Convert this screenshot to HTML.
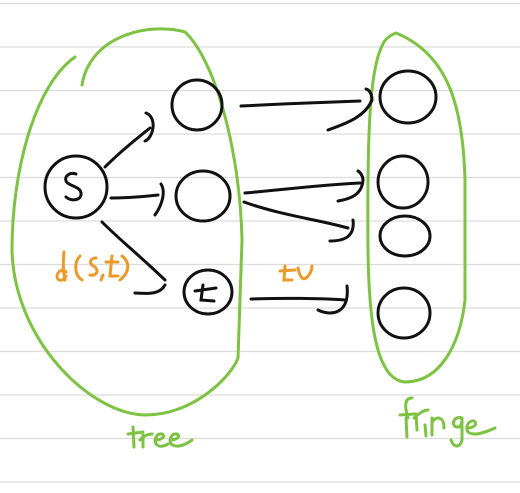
<!DOCTYPE html>
<html><head><meta charset="utf-8"><style>
html,body{margin:0;padding:0;background:#fff;}
svg{display:block}
</style></head><body>
<svg width="520" height="493" viewBox="0 0 520 493" xmlns="http://www.w3.org/2000/svg">
<g stroke="#dcdcdc" stroke-width="1.3">
<line x1="0" y1="3.5" x2="520" y2="3.5"/><line x1="0" y1="47" x2="520" y2="47"/>
<line x1="0" y1="90.5" x2="520" y2="90.5"/><line x1="0" y1="134" x2="520" y2="134"/>
<line x1="0" y1="177.5" x2="520" y2="177.5"/><line x1="0" y1="221" x2="520" y2="221"/>
<line x1="0" y1="264.5" x2="520" y2="264.5"/><line x1="0" y1="308" x2="520" y2="308"/>
<line x1="0" y1="351.5" x2="520" y2="351.5"/><line x1="0" y1="395" x2="520" y2="395"/>
<line x1="0" y1="438.5" x2="520" y2="438.5"/><line x1="0" y1="482" x2="520" y2="482"/>
</g>
<g fill="none" stroke="#7dc242" stroke-width="3" stroke-linecap="round">
<path d="M75,57 C35,85 12,170 12,250 C14,340 90,414 145,415 C195,415 232,375 238,358 L242,240 C240,150 215,60 185,32 C150,22 90,35 82,85"/>
<path d="M382,46 C370,70 367,130 368,250 C369,330 378,380 405,382 C440,382 460,345 465,300 L465,180 C463,110 450,55 396,33 C390,35 384,40 382,46"/>
</g>
<g fill="none" stroke="#111" stroke-width="3" stroke-linecap="round">
<ellipse cx="76" cy="187" rx="31" ry="31"/>
<path d="M76,174 C70,172 64,176 66,181 C68,186 80,186 81,193 C82,200 72,202 66,197"/>
<ellipse cx="197" cy="105" rx="25" ry="25"/>
<ellipse cx="203" cy="196" rx="27" ry="25"/>
<ellipse cx="208" cy="292" rx="24" ry="22"/>
<path d="M203,285 L201,300 L214,301 M195,291 L216,288"/>
<ellipse cx="408" cy="97" rx="28" ry="26"/>
<ellipse cx="403" cy="182" rx="25" ry="26"/>
<ellipse cx="405" cy="236" rx="25" ry="20"/>
<ellipse cx="404" cy="313" rx="26" ry="25"/>
<path d="M105,167 C120,152 135,140 150,128 M146,113 C158,118 153,138 145,141"/>
<path d="M111,198 C125,198 140,197 158,195 M161,184 C166,192 162,205 155,215"/>
<path d="M102,222 C120,240 140,256 165,280 M135,293 C150,294 160,294 165,285"/>
<path d="M241,106 C280,104 330,102 360,101 M328,130 C345,124 365,117 372,100 C372,95 370,90 366,89"/>
<path d="M245,193 C280,190 320,185 360,183 M338,201 C350,199 362,195 363,180 C363,176 360,172 358,171"/>
<path d="M244,202 C280,215 320,220 348,228 M330,241 C345,241 355,236 353,220"/>
<path d="M251,299 C280,298 320,298 345,300 M318,310 C330,316 350,315 347,286"/>
</g>
<g fill="none" stroke="#eb9a2a" stroke-width="3" stroke-linecap="round">
<path d="M66,272 C62,268 57,272 57,277 C58,282 64,281 66,276 M64,252 C63,262 63,272 65,280"/>
<path d="M80,256 C74,262 74,275 82,280"/>
<path d="M96,258 C90,258 88,264 95,267 C100,272 95,276 90,275"/>
<path d="M103,275 L101,280"/>
<path d="M112,256 L110,276 L118,276 M106,262 L118,262"/>
<path d="M122,256 C130,262 130,272 120,280"/>
<path d="M285,266 L284,280 L292,280 M280,271 L295,270"/>
<path d="M298,268 C300,278 303,280 306,278 C310,275 312,270 312,266"/>
</g>
<g fill="none" stroke="#7dc242" stroke-width="3" stroke-linecap="round">
<path d="M133,427 L134,447 M128,434 L143,432"/>
<path d="M140,440 C143,436 148,434 152,434 M143,435 L143,447"/>
<path d="M155,440 C162,440 166,436 162,434 C156,433 154,440 156,444 C160,448 164,446 168,444"/>
<path d="M170,440 C177,440 181,436 177,434 C171,433 169,440 171,444 C176,448 184,446 192,440"/>
<path d="M408,418 C404,405 405,398 412,398 M400,415 L414,414 M406,418 L407,437"/>
<path d="M414,418 C418,414 424,410 428,410 M416,414 L417,430"/>
<path d="M425,425 L426,436"/>
<path d="M432,418 L432,435 M432,422 C436,416 444,416 444,428"/>
<path d="M462,418 C454,415 450,426 457,427 C462,428 462,420 462,418 L462,440 C460,448 454,448 451,440"/>
<path d="M467,428 C474,428 478,424 474,421 C468,420 465,428 468,432 C473,436 482,434 495,428"/>
</g>
</svg>
</body></html>
